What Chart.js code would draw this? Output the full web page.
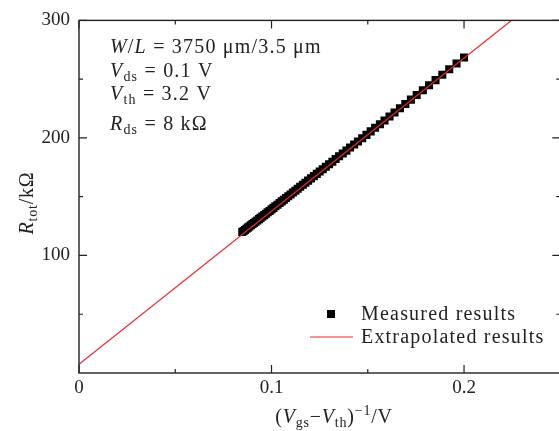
<!DOCTYPE html>
<html>
<head>
<meta charset="utf-8">
<script src="https://cdn.jsdelivr.net/npm/chart.js@4.4.1/dist/chart.umd.min.js"></script>
<style>
  html, body { margin: 0; padding: 0; background: #fff; overflow: hidden; }
  #wrap { width: 566px; height: 431px; position: relative; }
</style>
</head>
<body>
<div id="wrap"><canvas id="rtotChart"></canvas></div>
<script>
// (Vgs - Vth)^-1 in 1/V
const invOverdrive = [
  0.2000, 0.1961, 0.1923, 0.1887, 0.1852, 0.1818, 0.1786, 0.1754, 0.1724, 0.1695,
  0.1667, 0.1639, 0.1613, 0.1587, 0.1563, 0.1538, 0.1515, 0.1493, 0.1471, 0.1449,
  0.1429, 0.1408, 0.1389, 0.1370, 0.1351, 0.1333, 0.1316, 0.1299, 0.1282, 0.1266,
  0.1250, 0.1235, 0.1220, 0.1205, 0.1190, 0.1176, 0.1163, 0.1149, 0.1136, 0.1124,
  0.1111, 0.1099, 0.1087, 0.1075, 0.1064, 0.1053, 0.1042, 0.1031, 0.1020, 0.1010,
  0.1000, 0.0990, 0.0980, 0.0971, 0.0962, 0.0952, 0.0943, 0.0935, 0.0926, 0.0917,
  0.0909, 0.0901, 0.0893, 0.0885, 0.0877, 0.0870, 0.0862, 0.0855, 0.0848
];
// measured R_tot in kOhm
const measuredR = [
  268.4, 263.3, 258.4, 253.7, 249.2, 244.8, 240.6, 236.5, 232.6, 228.8,
  225.2, 221.6, 218.2, 214.9, 211.7, 208.6, 205.6, 202.6, 199.8, 197.0,
  194.4, 191.8, 189.2, 186.8, 184.4, 182.1, 179.8, 177.6, 175.5, 173.4,
  171.4, 169.4, 167.5, 165.6, 163.7, 161.9, 160.1, 158.4, 156.7, 155.1,
  153.5, 151.9, 150.4, 148.9, 147.4, 146.0, 144.6, 143.2, 141.9, 140.5,
  139.2, 137.9, 136.7, 135.5, 134.3, 133.2, 132.0, 130.9, 129.8, 128.7,
  127.7, 126.7, 125.7, 124.7, 123.7, 122.7, 121.7, 120.8, 119.9
];
// extrapolated straight line (endpoints)
const fitX = [0, 0.25];
const fitR = [7.5, 333.0];

const xTicks = [0, 0.1, 0.2];
const xMinor = [0.05, 0.15, 0.25];
const yTicks = [100, 200, 300];
const yMinor = [50, 150, 250];

const SERIF = '"Liberation Serif", "Times New Roman", serif';
const INK = '#222';
const RED = 'rgb(238, 40, 40)';

// draw a row of text pieces: [text, size, italic, dy]
function drawRuns(ctx, x, y, runs, spacing) {
  ctx.letterSpacing = spacing + 'px';
  let cx = x;
  runs.forEach(r => {
    ctx.font = (r[2] ? 'italic ' : '') + r[1] + 'px ' + SERIF;
    ctx.fillText(r[0], cx, y + (r[3] || 0));
    cx += ctx.measureText(r[0]).width;
  });
  ctx.letterSpacing = '0px';
}

function runsWidth(ctx, runs, spacing) {
  ctx.letterSpacing = spacing + 'px';
  let w = 0;
  runs.forEach(r => {
    ctx.font = (r[2] ? 'italic ' : '') + r[1] + 'px ' + SERIF;
    w += ctx.measureText(r[0]).width;
  });
  ctx.letterSpacing = '0px';
  return w;
}

const framePlugin = {
  id: 'framePlugin',
  afterDraw(chart) {
    const ctx = chart.ctx;
    const a = chart.chartArea;
    const xs = chart.scales.x, ys = chart.scales.y;
    ctx.save();
    ctx.strokeStyle = INK;
    ctx.lineWidth = 1.4;
    ctx.strokeRect(a.left, a.top, a.right - a.left, a.bottom - a.top);

    // inward ticks on all four sides
    ctx.lineWidth = 1.2;
    ctx.beginPath();
    const xt = (v, len) => {
      const px = xs.getPixelForValue(v);
      ctx.moveTo(px, a.bottom); ctx.lineTo(px, a.bottom - len);
      ctx.moveTo(px, a.top); ctx.lineTo(px, a.top + len);
    };
    const yt = (v, len) => {
      const py = ys.getPixelForValue(v);
      ctx.moveTo(a.left, py); ctx.lineTo(a.left + len, py);
      ctx.moveTo(a.right, py); ctx.lineTo(a.right - len, py);
    };
    xTicks.forEach(v => xt(v, 8));
    xMinor.forEach(v => xt(v, 4));
    yTicks.forEach(v => yt(v, 8));
    yMinor.forEach(v => yt(v, 4));
    ctx.stroke();

    ctx.fillStyle = INK;
    ctx.textBaseline = 'alphabetic';
    ctx.textAlign = 'left';

    // parameter box
    drawRuns(ctx, 110, 53, [['W', 20, true], ['/', 20, false], ['L', 20, true],
      [' = 3750 \u03bcm/3.5 \u03bcm', 20, false]], 1.2);
    drawRuns(ctx, 110, 77, [['V', 20, true], ['ds', 14, false, 4],
      [' = 0.1 V', 20, false]], 1.2);
    drawRuns(ctx, 110, 100, [['V', 20, true], ['th', 14, false, 4],
      [' = 3.2 V', 20, false]], 1.2);
    drawRuns(ctx, 110, 130, [['R', 20, true], ['ds', 14, false, 4],
      [' = 8 k\u03a9', 20, false]], 1.2);

    // legend
    ctx.fillStyle = '#000';
    ctx.fillRect(327, 310, 8, 8);
    ctx.strokeStyle = RED;
    ctx.lineWidth = 1.2;
    ctx.beginPath();
    ctx.moveTo(310, 337); ctx.lineTo(353, 337);
    ctx.stroke();
    ctx.fillStyle = INK;
    drawRuns(ctx, 361, 320, [['Measured results', 20, false]], 1.2);
    drawRuns(ctx, 361, 343, [['Extrapolated results', 20, false]], 1.2);

    // x axis title
    const xRuns = [['(', 20, false], ['V', 20, true], ['gs', 14, false, 4],
      ['\u2212', 20, false], ['V', 20, true], ['th', 14, false, 4], [')', 20, false],
      ['\u22121', 14, false, -8], ['/V', 20, false]];
    const xw = runsWidth(ctx, xRuns, 0.8);
    drawRuns(ctx, 334 - xw / 2, 423, xRuns, 0.8);

    // y axis title
    const yRuns = [['R', 20, true], ['tot', 14, false, 4], ['/k\u03a9', 20, false]];
    const yw = runsWidth(ctx, yRuns, 0.8);
    ctx.translate(33, 203);
    ctx.rotate(-Math.PI / 2);
    drawRuns(ctx, -yw / 2, 0, yRuns, 0.8);
    ctx.restore();
  }
};

new Chart(document.getElementById('rtotChart'), {
  data: {
    datasets: [
      {
        type: 'line',
        label: 'Extrapolated results',
        data: fitX.map((x, i) => ({ x: x, y: fitR[i] })),
        borderColor: RED,
        borderWidth: 1.2,
        pointRadius: 0,
        fill: false,
        order: 0
      },
      {
        type: 'scatter',
        label: 'Measured results',
        data: invOverdrive.map((x, i) => ({ x: x, y: measuredR[i] })),
        pointStyle: 'rect',
        pointRadius: 5.7,
        backgroundColor: '#000',
        borderWidth: 0,
        order: 1
      }
    ]
  },
  options: {
    responsive: true,
    maintainAspectRatio: false,
    animation: false,
    layout: { padding: { top: 16, right: 4, left: 0, bottom: 0 } },
    plugins: {
      legend: { display: false },
      tooltip: { enabled: false }
    },
    scales: {
      x: {
        type: 'linear',
        min: 0,
        max: 0.25,
        grid: { display: false, drawTicks: false },
        border: { display: false },
        afterBuildTicks: s => { s.ticks = xTicks.map(v => ({ value: v })); },
        afterFit: s => { s.height = 58; },
        ticks: {
          padding: 4,
          color: INK,
          maxRotation: 0,
          font: { family: SERIF, size: 19 },
          callback: v => String(v)
        }
      },
      y: {
        type: 'linear',
        min: 0,
        max: 300,
        grid: { display: false, drawTicks: false },
        border: { display: false },
        afterBuildTicks: s => { s.ticks = yTicks.map(v => ({ value: v })); },
        afterFit: s => { s.width = 79; },
        ticks: {
          padding: 9,
          color: INK,
          font: { family: SERIF, size: 19 },
          callback: v => String(v)
        }
      }
    }
  },
  plugins: [framePlugin]
});
</script>
</body>
</html>
